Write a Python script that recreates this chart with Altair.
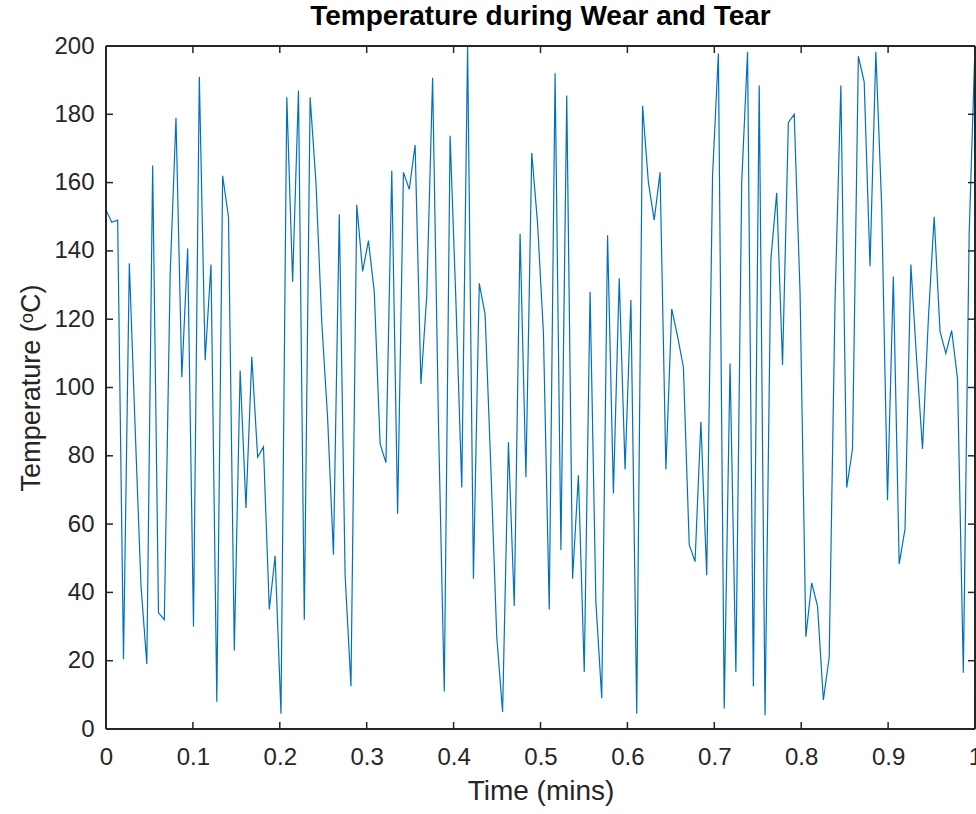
import altair as alt
import numpy as np
import pandas as pd

# --- data -------------------------------------------------------------
temps = [152, 148.4, 149, 20.4, 136.4, 88, 42, 19, 165, 34, 32, 133, 179, 103, 140.7, 30, 191, 108, 136, 8,
         162, 150, 23, 105, 64.7, 109, 79.6, 82.6, 35, 50.7, 4.5, 185, 131, 187, 32, 185, 160, 119, 91, 51,
         150.7, 45, 12.5, 153.5, 134, 143, 128, 83.5, 78, 163.5, 63, 163, 158, 171, 101, 127, 190.7, 90, 11, 173.7,
         125, 70.7, 200, 44, 130.5, 121.4, 76, 27, 5, 84, 36, 145, 73.7, 168.7, 148, 116, 35, 192, 52.4, 185.5,
         44, 74.3, 16.7, 128, 37, 9, 144.6, 69, 132, 76, 125.6, 4.5, 182.5, 160, 149, 163, 76, 123, 115, 106,
         54, 49, 90, 45, 162, 197.8, 6, 107, 16.7, 160, 198.3, 12.5, 188.4, 4, 137.5, 157, 106.6, 177.6, 180, 128,
         27, 42.8, 36, 8.5, 21, 125, 188.4, 70.7, 82, 197, 189.5, 135.5, 198.3, 153, 67, 132.5, 48.3, 58.6, 136, 108,
         82, 120, 150, 116.4, 110, 116.7, 102.6, 16.5, 145, 200]
time_mins = np.linspace(0, 1, len(temps))

x_ticks = [0, 0.1, 0.2, 0.3, 0.4, 0.5, 0.6, 0.7, 0.8, 0.9, 1]
y_ticks = [0, 20, 40, 60, 80, 100, 120, 140, 160, 180, 200]

title_text = "Temperature during Wear and Tear"
x_title = "Time (mins)"
y_title = "Temperature (\u1d52C)"

# --- layout / style ---------------------------------------------------
W, H = 869, 683
TICK = 7
AX = "#262626"
LINE = "#0072BD"
FONT = "Liberation Sans"

df = pd.DataFrame({"t": time_mins, "temp": temps})
xt = pd.DataFrame({"x": x_ticks})
yt = pd.DataFrame({"y": y_ticks})
one = pd.DataFrame({"k": [0]})

xscale = alt.Scale(domain=[0, 1], nice=False, zero=False)
yscale = alt.Scale(domain=[0, 200], nice=False)

line = alt.Chart(df).mark_line(color=LINE, strokeWidth=1.2, clip=True).encode(
    x=alt.X("t:Q", scale=xscale,
            axis=alt.Axis(values=x_ticks, format="~g", title=x_title, tickSize=0,
                          domain=False, grid=False, labelPadding=16, titlePadding=8,
                          labelFontSize=24, titleFontSize=28, labelColor=AX, titleColor=AX,
                          labelFont=FONT, titleFont=FONT, titleFontWeight="normal",
                          labelFlush=False, labelOverlap=False)),
    y=alt.Y("temp:Q", scale=yscale,
            axis=alt.Axis(values=y_ticks, title=y_title, tickSize=0, domain=False, grid=False,
                          labelPadding=12, titlePadding=8,
                          labelFontSize=24, titleFontSize=27, labelColor=AX, titleColor=AX,
                          labelFont=FONT, titleFont=FONT, titleFontWeight="normal",
                          labelFlush=False, labelOverlap=False)),
)

tick_style = dict(color=AX, strokeWidth=1.5)
bottom_ticks = alt.Chart(xt).mark_rule(**tick_style).encode(
    x=alt.X("x:Q", scale=xscale), y=alt.value(H), y2=alt.value(H - TICK))
top_ticks = alt.Chart(xt).mark_rule(**tick_style).encode(
    x=alt.X("x:Q", scale=xscale), y=alt.value(0), y2=alt.value(TICK))
left_ticks = alt.Chart(yt).mark_rule(**tick_style).encode(
    y=alt.Y("y:Q", scale=yscale), x=alt.value(0), x2=alt.value(TICK))
right_ticks = alt.Chart(yt).mark_rule(**tick_style).encode(
    y=alt.Y("y:Q", scale=yscale), x=alt.value(W), x2=alt.value(W - TICK))

box_style = dict(color=AX, strokeWidth=2)
box_l = alt.Chart(one).mark_rule(**box_style).encode(x=alt.value(0), y=alt.value(0), y2=alt.value(H))
box_r = alt.Chart(one).mark_rule(**box_style).encode(x=alt.value(W), y=alt.value(0), y2=alt.value(H))
box_t = alt.Chart(one).mark_rule(**box_style).encode(y=alt.value(0), x=alt.value(0), x2=alt.value(W))
box_b = alt.Chart(one).mark_rule(**box_style).encode(y=alt.value(H), x=alt.value(0), x2=alt.value(W))

chart = alt.layer(line, bottom_ticks, top_ticks, left_ticks, right_ticks,
                  box_l, box_r, box_t, box_b).properties(
    width=W, height=H,
    title=alt.TitleParams(title_text, fontSize=28, fontWeight="bold", font=FONT,
                          color="black", anchor="middle", offset=3),
    autosize=alt.AutoSizeParams(type="none"),
    padding={"left": 106, "top": 46, "right": 1, "bottom": 85},
).configure_view(strokeWidth=0).configure(background="white")

chart.save("out.html", embed_options={"renderer": "svg", "actions": False})
